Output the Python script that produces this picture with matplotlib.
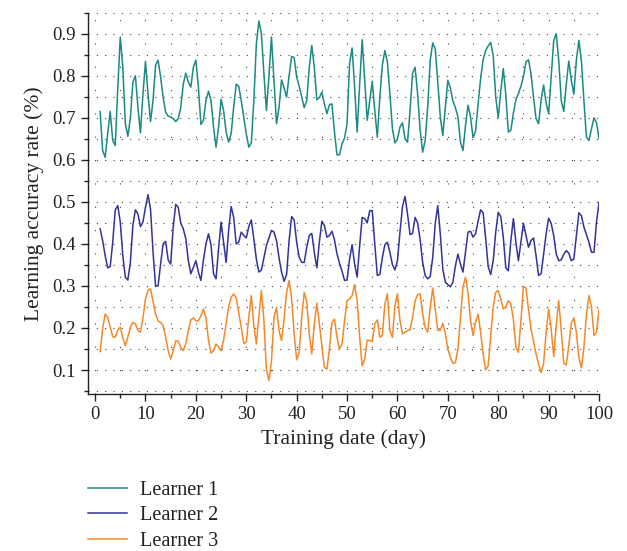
import matplotlib
matplotlib.use("Agg")
import matplotlib.pyplot as plt
import numpy as np
from matplotlib.ticker import MultipleLocator

# days 1..100 sampled every half day
days = np.arange(1, 100.5, 0.5)

learner1 = [
    0.715, 0.622, 0.606, 0.662, 0.715, 0.646, 0.634, 0.770, 0.892, 0.820,
    0.686, 0.656, 0.700, 0.785, 0.800, 0.725, 0.664, 0.757, 0.834, 0.757,
    0.691, 0.741, 0.825, 0.837, 0.797, 0.749, 0.713, 0.704, 0.702, 0.698,
    0.691, 0.698, 0.725, 0.780, 0.806, 0.785, 0.773, 0.820, 0.837, 0.773,
    0.684, 0.694, 0.741, 0.763, 0.741, 0.678, 0.630, 0.678, 0.744, 0.717,
    0.666, 0.642, 0.662, 0.725, 0.780, 0.775, 0.741, 0.702, 0.662, 0.630,
    0.640, 0.740, 0.876, 0.930, 0.900, 0.805, 0.717, 0.800, 0.892, 0.789,
    0.686, 0.725, 0.790, 0.771, 0.749, 0.800, 0.846, 0.843, 0.797, 0.775,
    0.749, 0.724, 0.741, 0.820, 0.872, 0.820, 0.743, 0.748, 0.761, 0.733,
    0.710, 0.731, 0.733, 0.666, 0.612, 0.612, 0.638, 0.652, 0.686, 0.829,
    0.866, 0.773, 0.666, 0.780, 0.886, 0.789, 0.694, 0.741, 0.787, 0.717,
    0.654, 0.749, 0.825, 0.860, 0.833, 0.757, 0.674, 0.640, 0.650, 0.678,
    0.688, 0.650, 0.642, 0.717, 0.806, 0.820, 0.757, 0.670, 0.618, 0.646,
    0.725, 0.837, 0.878, 0.864, 0.785, 0.702, 0.658, 0.725, 0.789, 0.771,
    0.740, 0.724, 0.702, 0.642, 0.622, 0.681, 0.730, 0.702, 0.653, 0.668,
    0.733, 0.793, 0.838, 0.860, 0.871, 0.879, 0.848, 0.749, 0.700, 0.763,
    0.817, 0.755, 0.666, 0.670, 0.711, 0.743, 0.757, 0.775, 0.798, 0.833,
    0.838, 0.805, 0.749, 0.698, 0.686, 0.741, 0.778, 0.735, 0.710, 0.797,
    0.883, 0.900, 0.837, 0.741, 0.715, 0.780, 0.835, 0.790, 0.756, 0.837,
    0.884, 0.835, 0.741, 0.654, 0.646, 0.674, 0.700, 0.688, 0.650,
]

learner2 = [
    0.436, 0.408, 0.372, 0.343, 0.346, 0.404, 0.481, 0.491, 0.452, 0.372,
    0.321, 0.314, 0.356, 0.444, 0.481, 0.471, 0.441, 0.452, 0.487, 0.517,
    0.483, 0.380, 0.300, 0.300, 0.352, 0.400, 0.406, 0.362, 0.352, 0.440,
    0.494, 0.487, 0.449, 0.436, 0.412, 0.360, 0.329, 0.344, 0.360, 0.333,
    0.313, 0.362, 0.400, 0.424, 0.398, 0.329, 0.317, 0.388, 0.452, 0.404,
    0.356, 0.432, 0.489, 0.463, 0.400, 0.404, 0.428, 0.420, 0.414, 0.441,
    0.457, 0.412, 0.364, 0.333, 0.338, 0.367, 0.396, 0.414, 0.432, 0.428,
    0.408, 0.367, 0.333, 0.311, 0.327, 0.408, 0.465, 0.457, 0.404, 0.368,
    0.356, 0.356, 0.392, 0.420, 0.425, 0.380, 0.343, 0.404, 0.454, 0.444,
    0.416, 0.420, 0.430, 0.410, 0.376, 0.354, 0.335, 0.313, 0.314, 0.364,
    0.398, 0.352, 0.321, 0.396, 0.463, 0.460, 0.450, 0.479, 0.479, 0.400,
    0.325, 0.327, 0.367, 0.398, 0.404, 0.380, 0.351, 0.338, 0.360, 0.428,
    0.489, 0.513, 0.471, 0.422, 0.425, 0.463, 0.450, 0.410, 0.356, 0.325,
    0.317, 0.322, 0.368, 0.449, 0.491, 0.424, 0.340, 0.309, 0.303, 0.298,
    0.309, 0.348, 0.376, 0.352, 0.333, 0.380, 0.428, 0.430, 0.416, 0.424,
    0.454, 0.481, 0.474, 0.414, 0.346, 0.327, 0.360, 0.428, 0.475, 0.465,
    0.416, 0.343, 0.336, 0.408, 0.460, 0.404, 0.360, 0.404, 0.449, 0.420,
    0.392, 0.408, 0.414, 0.372, 0.325, 0.329, 0.375, 0.424, 0.461, 0.449,
    0.420, 0.376, 0.360, 0.362, 0.375, 0.384, 0.378, 0.360, 0.364, 0.420,
    0.474, 0.467, 0.440, 0.422, 0.404, 0.380, 0.380, 0.452, 0.499,
]

learner3 = [
    0.144, 0.198, 0.233, 0.225, 0.202, 0.179, 0.178, 0.195, 0.202, 0.176,
    0.158, 0.178, 0.202, 0.213, 0.210, 0.194, 0.190, 0.224, 0.269, 0.290,
    0.293, 0.263, 0.233, 0.217, 0.213, 0.206, 0.178, 0.146, 0.126, 0.146,
    0.170, 0.168, 0.154, 0.146, 0.163, 0.194, 0.219, 0.224, 0.217, 0.217,
    0.229, 0.245, 0.224, 0.171, 0.140, 0.146, 0.162, 0.154, 0.146, 0.171,
    0.210, 0.251, 0.273, 0.281, 0.271, 0.237, 0.202, 0.163, 0.166, 0.225,
    0.277, 0.205, 0.162, 0.225, 0.289, 0.217, 0.102, 0.075, 0.122, 0.225,
    0.249, 0.194, 0.170, 0.221, 0.285, 0.313, 0.269, 0.186, 0.124, 0.142,
    0.225, 0.285, 0.263, 0.186, 0.138, 0.210, 0.259, 0.210, 0.158, 0.106,
    0.102, 0.150, 0.213, 0.221, 0.178, 0.150, 0.162, 0.217, 0.265, 0.269,
    0.277, 0.303, 0.265, 0.178, 0.110, 0.126, 0.171, 0.170, 0.168, 0.210,
    0.219, 0.178, 0.182, 0.257, 0.281, 0.194, 0.178, 0.253, 0.281, 0.217,
    0.186, 0.190, 0.194, 0.195, 0.225, 0.265, 0.279, 0.281, 0.233, 0.202,
    0.190, 0.249, 0.295, 0.245, 0.194, 0.195, 0.211, 0.187, 0.150, 0.130,
    0.116, 0.118, 0.150, 0.224, 0.298, 0.321, 0.283, 0.217, 0.182, 0.213,
    0.233, 0.190, 0.138, 0.100, 0.110, 0.182, 0.251, 0.285, 0.289, 0.269,
    0.245, 0.251, 0.265, 0.257, 0.221, 0.154, 0.142, 0.217, 0.298, 0.295,
    0.245, 0.198, 0.168, 0.138, 0.114, 0.094, 0.116, 0.190, 0.245, 0.198,
    0.132, 0.206, 0.265, 0.194, 0.116, 0.112, 0.158, 0.211, 0.224, 0.190,
    0.129, 0.105, 0.154, 0.233, 0.277, 0.249, 0.182, 0.190, 0.245,
]

plt.rcParams["font.family"] = ["Liberation Serif", "DejaVu Serif"]
plt.rcParams["font.size"] = 13.5

fig = plt.figure(figsize=(6.27, 5.51), dpi=100)
ax = fig.add_axes([0.1404, 0.285, 0.815, 0.692])

# dotted background grid
ax.set_axisbelow(True)
ax.yaxis.grid(True, which="both", linestyle=(0, (1, 6.5)), linewidth=0.8, color="#444444")
ax.xaxis.grid(True, which="both", linestyle=(0, (1, 20)), linewidth=0.8, color="#444444")

ax.plot(days, learner1, color="#1b8a83", linewidth=1.1, label="Learner 1")
ax.plot(days, learner2, color="#33339a", linewidth=1.1, label="Learner 2")
ax.plot(days, learner3, color="#f5892a", linewidth=1.1, label="Learner 3")

ax.set_xlim(-1.4, 100)
ax.set_ylim(0.043, 0.95)
ax.xaxis.set_major_locator(MultipleLocator(10))
ax.xaxis.set_minor_locator(MultipleLocator(5))
ax.yaxis.set_minor_locator(MultipleLocator(0.05))
ax.set_yticks(np.arange(0.1, 0.95, 0.1))
ax.set_yticklabels(["0.1", "0.2", "0.3", "0.4", "0.5", "0.6", "0.7", "0.8", "0.9"])

for side in ["top", "right"]:
    ax.spines[side].set_visible(False)
for side in ["left", "bottom"]:
    ax.spines[side].set_color("#222222")
    ax.spines[side].set_linewidth(1.0)
ax.tick_params(which="major", direction="out", length=5, width=1.0, color="#222222", pad=4)
ax.tick_params(which="minor", direction="out", length=3, width=1.0, color="#222222")
ax.tick_params(labelcolor="#222222")

ax.set_xlabel("Training date (day)", color="#222222", fontsize=15.5, labelpad=4)
ax.set_ylabel("Learning accuracy rate (%)", color="#222222", fontsize=15.5, labelpad=6)

fig.legend(loc="upper left", bbox_to_anchor=(0.128, 0.142), frameon=False,
           handlelength=1.9, handletextpad=0.65, labelspacing=0.3,
           borderaxespad=0, fontsize=14.6, labelcolor="#222222")

fig.savefig("out.png", dpi=100)
